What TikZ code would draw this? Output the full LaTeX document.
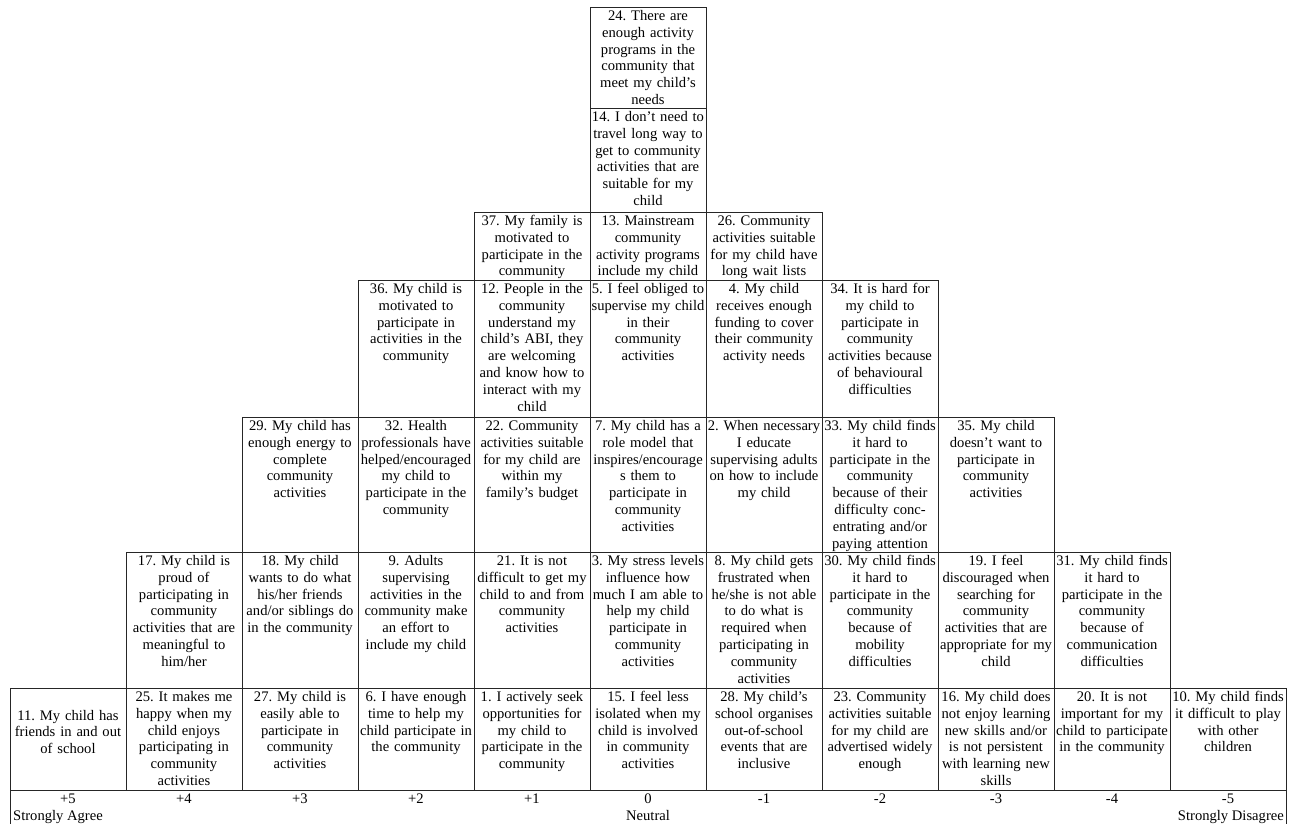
\documentclass[tikz,border=0pt]{standalone}
\usepackage{fontspec}
\setmainfont{Liberation Serif}
\usepackage{tikz}
\frenchspacing

\tikzset{
    cellline/.style={line width=0.9pt, draw=black!85},
    stmt/.style={anchor=base, text width=130pt, align=center, inner sep=0pt,
        font=\fontsize{14.6}{16.8}\selectfont},
    score/.style={anchor=base, inner sep=0pt, font=\fontsize{14.6}{16.8}\selectfont}
}

\begin{document}
\begin{tikzpicture}[x=1pt, y=-1pt]
    \useasboundingbox (0,0) rectangle (1297,824);

    % Draw the cells, row by row from the bottom
    \foreach \c in {0,...,10}
        \draw[cellline] ({10+116*\c},688) rectangle +(116,102);
    \foreach \c in {1,...,9}
        \draw[cellline] ({10+116*\c},552) rectangle +(116,136);
    \foreach \c in {2,...,8}
        \draw[cellline] ({10+116*\c},417) rectangle +(116,135);
    \foreach \c in {3,...,7}
        \draw[cellline] ({10+116*\c},280) rectangle +(116,137);
    \foreach \c in {4,...,6}
        \draw[cellline] ({10+116*\c},212) rectangle +(116,68);
    \draw[cellline] (590,108) rectangle +(116,104);
    \draw[cellline] (590,7) rectangle +(116,101);

    % Sides of the score row
    \draw[cellline] (10,790) -- (10,824);
    \draw[cellline] (1286,790) -- (1286,824);

    % Top of the column
    \node[stmt] (s24) at (648,20.5) {24. There are\\enough activity\\programs in the\\community that\\meet my child’s\\needs};
    \node[stmt] (s14) at (648,121.5) {14. I don’t need to\\travel long way to\\get to community\\activities that are\\suitable for my\\child};

    % Row 5
    \foreach \c/\n/\txt in {
        4/37/{37. My family is\\motivated to\\participate in the\\community},
        5/13/{13. Mainstream\\community\\activity programs\\include my child},
        6/26/{26. Community\\activities suitable\\for my child have\\long wait lists}}
        \node[stmt] (s\n) at ({68+116*\c},225.5) {\txt};

    % Row 4
    \foreach \c/\n/\txt in {
        3/36/{36. My child is\\motivated to\\participate in\\activities in the\\community},
        4/12/{12. People in the\\community\\understand my\\child’s ABI, they\\are welcoming\\and know how to\\interact with my\\child},
        5/5/{5. I feel obliged to\\supervise my child\\in their\\community\\activities},
        6/4/{4. My child\\receives enough\\funding to cover\\their community\\activity needs},
        7/34/{34. It is hard for\\my child to\\participate in\\community\\activities because\\of behavioural\\difficulties}}
        \node[stmt] (s\n) at ({68+116*\c},293.5) {\txt};

    % Row 3
    \foreach \c/\n/\txt in {
        2/29/{29. My child has\\enough energy to\\complete\\community\\activities},
        3/32/{32. Health\\professionals have\\helped/encouraged\\my child to\\participate in the\\community},
        4/22/{22. Community\\activities suitable\\for my child are\\within my\\family’s budget},
        5/7/{7. My child has a\\role model that\\inspires/encourage\\s them to\\participate in\\community\\activities},
        6/2/{2. When necessary\\I educate\\supervising adults\\on how to include\\my child},
        7/33/{33. My child finds\\it hard to\\participate in the\\community\\because of their\\difficulty conc-\\entrating and/or\\paying attention},
        8/35/{35. My child\\doesn’t want to\\participate in\\community\\activities}}
        \node[stmt] (s\n) at ({68+116*\c},430.5) {\txt};

    % Row 2
    \foreach \c/\n/\txt in {
        1/17/{17. My child is\\proud of\\participating in\\community\\activities that are\\meaningful to\\him/her},
        2/18/{18. My child\\wants to do what\\his/her friends\\and/or siblings do\\in the community},
        3/9/{9. Adults\\supervising\\activities in the\\community make\\an effort to\\include my child},
        4/21/{21. It is not\\difficult to get my\\child to and from\\community\\activities},
        5/3/{3. My stress levels\\influence how\\much I am able to\\help my child\\participate in\\community\\activities},
        6/8/{8. My child gets\\frustrated when\\he/she is not able\\to do what is\\required when\\participating in\\community\\activities},
        7/30/{30. My child finds\\it hard to\\participate in the\\community\\because of\\mobility\\difficulties},
        8/19/{19. I feel\\discouraged when\\searching for\\community\\activities that are\\appropriate for my\\child},
        9/31/{31. My child finds\\it hard to\\participate in the\\community\\because of\\communication\\difficulties}}
        \node[stmt] (s\n) at ({68+116*\c},565.5) {\txt};

    % Bottom row
    \node[stmt] (s11) at (68,720) {11. My child has\\friends in and out\\of school};
    \foreach \c/\n/\txt in {
        1/25/{25. It makes me\\happy when my\\child enjoys\\participating in\\community\\activities},
        2/27/{27. My child is\\easily able to\\participate in\\community\\activities},
        3/6/{6. I have enough\\time to help my\\child participate in\\the community},
        4/1/{1. I actively seek\\opportunities for\\my child to\\participate in the\\community},
        5/15/{15. I feel less\\isolated when my\\child is involved\\in community\\activities},
        6/28/{28. My child’s\\school organises\\out-of-school\\events that are\\inclusive},
        7/23/{23. Community\\activities suitable\\for my child are\\advertised widely\\enough},
        8/16/{16. My child does\\not enjoy learning\\new skills and/or\\is not persistent\\with learning new\\skills},
        9/20/{20. It is not\\important for my\\child to participate\\in the community},
        10/10/{10. My child finds\\it difficult to play\\with other\\children}}
        \node[stmt] (s\n) at ({68+116*\c},701.5) {\txt};

    % Scores
    \foreach \v [count=\c from 0] in {+5,+4,+3,+2,+1,0,-1,-2,-3,-4,-5}
        \node[score] (sc\c) at ({68+116*\c},803) {\v};
    \node[score, anchor=base west] (agree) at (13,820) {Strongly Agree};
    \node[score] (neutral) at (648,820) {Neutral};
    \node[score, anchor=base east] (disagree) at (1284,820) {Strongly Disagree};
\end{tikzpicture}
\end{document}
